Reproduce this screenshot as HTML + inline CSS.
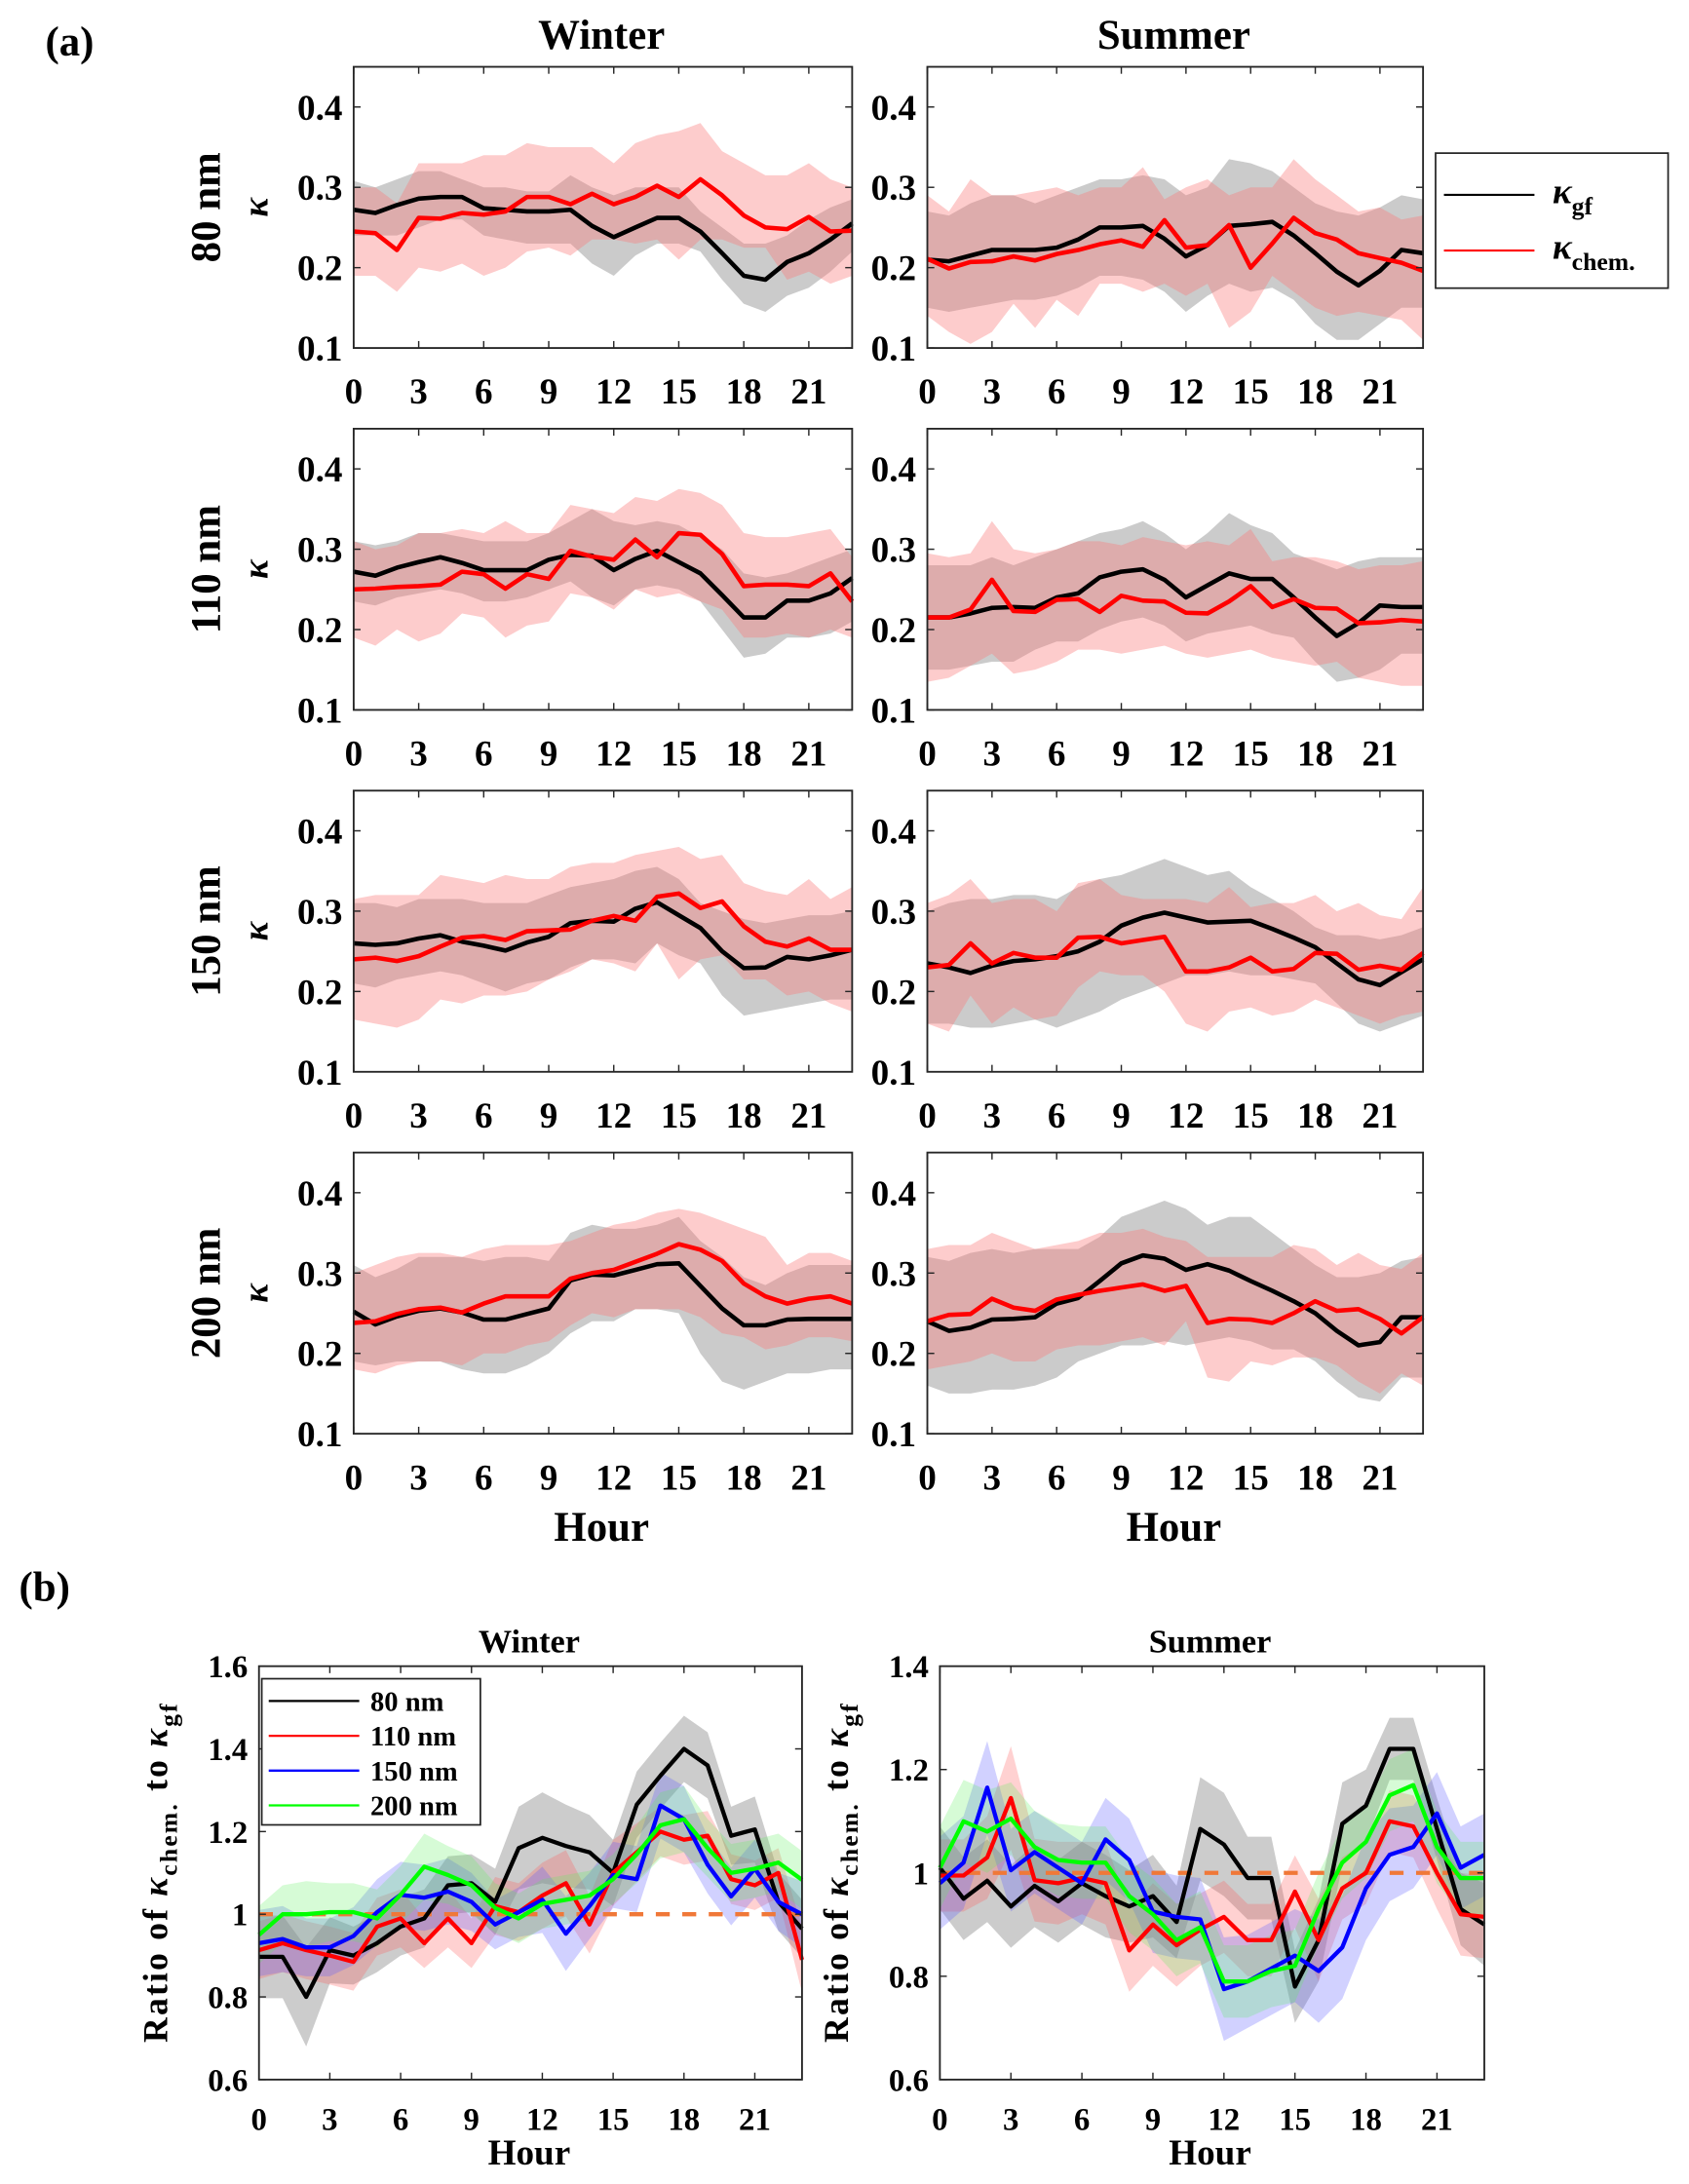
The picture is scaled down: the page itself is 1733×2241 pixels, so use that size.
<!DOCTYPE html>
<html><head><meta charset="utf-8"><style>
html,body{margin:0;padding:0;background:#fff;}
svg{display:block;font-family:"Liberation Serif",serif;font-weight:bold;}
</style></head><body>
<svg id="fig" xmlns="http://www.w3.org/2000/svg" width="1733" height="2241" viewBox="0 0 1213 1569" preserveAspectRatio="none">
<text x="50" y="40" font-size="30" text-anchor="middle">(a)</text>
<text x="432" y="35" font-size="30" text-anchor="middle">Winter</text>
<text x="843" y="35" font-size="30" text-anchor="middle">Summer</text>
<text x="432" y="1107" font-size="30" text-anchor="middle">Hour</text>
<text x="843" y="1107" font-size="30" text-anchor="middle">Hour</text>
<g>
<rect x="1031" y="110" width="167" height="97" fill="#fff" stroke="#222" stroke-width="1.2"/>
<line x1="1037" y1="140" x2="1102" y2="140" stroke="#000" stroke-width="1.5"/>
<text x="1115" y="146" font-size="26" font-style="italic">κ<tspan font-size="18" font-style="normal" dy="8">gf</tspan></text>
<line x1="1037" y1="180" x2="1102" y2="180" stroke="#f00" stroke-width="1.5"/>
<text x="1115" y="186" font-size="26" font-style="italic">κ<tspan font-size="18" font-style="normal" dy="8">chem.</tspan></text>
</g>
<text x="32" y="1150" font-size="30" text-anchor="middle">(b)</text>
<text x="380" y="1187" font-size="24" text-anchor="middle">Winter</text>
<text x="869" y="1187" font-size="24" text-anchor="middle">Summer</text>
<text x="380" y="1555" font-size="26" text-anchor="middle">Hour</text>
<text x="869" y="1555" font-size="26" text-anchor="middle">Hour</text>
<text transform="translate(120,1345) rotate(-90)" font-size="25" text-anchor="middle" letter-spacing="1.5">Ratio of <tspan font-style="italic">κ</tspan><tspan font-size="18" dy="7">chem.</tspan><tspan dy="-7"> to </tspan><tspan font-style="italic">κ</tspan><tspan font-size="18" dy="7">gf</tspan></text>
<text transform="translate(609,1345) rotate(-90)" font-size="25" text-anchor="middle" letter-spacing="1.5">Ratio of <tspan font-style="italic">κ</tspan><tspan font-size="18" dy="7">chem.</tspan><tspan dy="-7"> to </tspan><tspan font-style="italic">κ</tspan><tspan font-size="18" dy="7">gf</tspan></text>
</svg>
<script>
const hours=[0,1,2,3,4,5,6,7,8,9,10,11,12,13,14,15,16,17,18,19,20,21,22,23];
const xTicks=[0,3,6,9,12,15,18,21];
const aYTicks=[0.1,0.2,0.3,0.4];
const sizeLabels=["80 nm","110 nm","150 nm","200 nm"];
// row 80 nm winter
const w80Gf=[.272,.268,.278,.286,.288,.288,.274,.272,.270,.270,.272,.252,.238,.250,.262,.262,.245,.218,.190,.185,.207,.218,.235,.255];
const w80GfHi=[.308,.300,.31,.32,.32,.31,.30,.30,.295,.295,.315,.30,.29,.30,.30,.30,.27,.25,.23,.23,.24,.26,.275,.285];
const w80GfLo=[.24,.24,.24,.25,.26,.26,.24,.235,.23,.23,.23,.205,.19,.215,.23,.23,.22,.185,.155,.145,.165,.175,.195,.22];
const w80Ch=[.245,.243,.222,.262,.261,.268,.266,.270,.288,.288,.279,.292,.279,.288,.302,.288,.310,.290,.265,.250,.248,.263,.245,.246];
const w80ChHi=[.30,.30,.28,.33,.33,.33,.34,.34,.355,.35,.35,.35,.33,.355,.365,.37,.38,.345,.33,.315,.315,.33,.31,.30];
const w80ChLo=[.19,.19,.17,.20,.195,.205,.19,.20,.22,.225,.215,.235,.235,.23,.235,.21,.235,.235,.225,.225,.185,.195,.18,.19];
// row 80 nm summer
const s80Gf=[.210,.208,.215,.222,.222,.222,.225,.235,.25,.25,.252,.236,.214,.228,.252,.254,.257,.240,.218,.195,.178,.196,.222,.218];
const s80GfHi=[.27,.265,.28,.29,.29,.28,.29,.30,.31,.31,.315,.31,.29,.30,.335,.33,.32,.30,.28,.27,.265,.275,.29,.285];
const s80GfLo=[.15,.145,.15,.155,.16,.16,.165,.175,.19,.19,.185,.17,.145,.165,.18,.17,.175,.16,.13,.11,.11,.13,.15,.15];
const s80Ch=[.211,.199,.207,.208,.214,.209,.217,.222,.229,.234,.226,.259,.225,.228,.253,.200,.230,.262,.243,.235,.218,.212,.206,.196];
const s80ChHi=[.29,.27,.31,.29,.29,.295,.30,.29,.30,.30,.325,.285,.30,.31,.29,.30,.30,.335,.31,.29,.27,.275,.26,.265];
const s80ChLo=[.14,.12,.105,.12,.155,.125,.16,.14,.18,.18,.17,.18,.165,.18,.125,.145,.19,.17,.15,.14,.145,.14,.135,.11];
// row 110 nm winter
const w110Gf=[.272,.267,.277,.284,.290,.283,.274,.274,.274,.287,.293,.292,.274,.288,.298,.284,.270,.243,.215,.215,.236,.236,.245,.264];
const w110GfHi=[.31,.305,.31,.32,.32,.315,.31,.31,.31,.32,.335,.35,.335,.33,.335,.33,.315,.30,.27,.265,.27,.28,.29,.30];
const w110GfLo=[.235,.23,.24,.245,.25,.245,.235,.235,.24,.25,.26,.24,.23,.25,.255,.25,.235,.20,.165,.17,.19,.19,.195,.21];
const w110Ch=[.250,.251,.253,.254,.256,.272,.269,.251,.269,.263,.298,.291,.287,.312,.290,.320,.318,.294,.254,.256,.256,.254,.270,.235];
const w110ChHi=[.31,.30,.305,.32,.32,.325,.32,.335,.32,.32,.355,.35,.345,.365,.36,.375,.37,.355,.32,.315,.315,.32,.325,.29];
const w110ChLo=[.19,.18,.20,.185,.195,.22,.215,.19,.205,.21,.245,.24,.225,.25,.24,.245,.235,.225,.19,.19,.195,.19,.20,.19];
// row 110 nm summer
const s110Gf=[.215,.215,.220,.227,.228,.227,.240,.245,.265,.272,.275,.262,.240,.255,.270,.263,.263,.240,.215,.192,.208,.230,.228,.228];
const s110GfHi=[.28,.28,.28,.29,.28,.29,.30,.31,.32,.325,.335,.32,.30,.32,.345,.33,.32,.295,.285,.275,.285,.29,.29,.29];
const s110GfLo=[.15,.15,.155,.16,.16,.175,.185,.185,.20,.21,.215,.205,.185,.195,.20,.205,.195,.19,.16,.135,.14,.15,.17,.17];
const s110Ch=[.215,.215,.225,.262,.223,.222,.237,.238,.222,.242,.236,.235,.221,.220,.235,.254,.228,.238,.227,.226,.208,.209,.212,.210];
const s110ChHi=[.295,.29,.295,.335,.30,.295,.30,.31,.31,.305,.315,.31,.305,.31,.305,.325,.285,.29,.29,.285,.275,.28,.28,.285];
const s110ChLo=[.135,.14,.155,.17,.145,.15,.16,.175,.175,.17,.175,.18,.17,.165,.17,.175,.165,.16,.155,.16,.14,.135,.13,.13];
// row 150 nm winter
const w150Gf=[.26,.258,.26,.266,.270,.262,.257,.251,.261,.268,.285,.288,.287,.303,.311,.295,.279,.250,.229,.230,.243,.240,.245,.252];
const w150GfHi=[.31,.31,.305,.315,.315,.315,.31,.31,.31,.32,.33,.335,.34,.35,.355,.34,.31,.30,.29,.285,.29,.295,.295,.30];
const w150GfLo=[.21,.205,.215,.22,.225,.22,.21,.20,.21,.215,.23,.24,.24,.235,.26,.245,.235,.195,.17,.175,.18,.185,.19,.19];
const w150Ch=[.240,.242,.238,.244,.256,.267,.269,.264,.275,.276,.277,.288,.294,.288,.318,.322,.304,.312,.281,.262,.256,.266,.252,.252];
const w150ChHi=[.315,.32,.32,.32,.345,.34,.335,.345,.34,.34,.355,.36,.36,.37,.375,.38,.365,.37,.335,.325,.32,.34,.315,.33];
const w150ChLo=[.165,.16,.155,.165,.19,.185,.195,.195,.20,.215,.225,.24,.235,.225,.26,.215,.24,.245,.215,.215,.195,.20,.185,.175];
// row 150 nm summer
const s150Gf=[.235,.230,.223,.232,.238,.240,.244,.250,.262,.282,.292,.298,.292,.286,.287,.288,.278,.267,.255,.235,.215,.208,.224,.240];
const s150GfHi=[.30,.31,.315,.315,.32,.32,.315,.33,.34,.345,.355,.365,.355,.345,.35,.33,.315,.30,.28,.27,.27,.265,.27,.28];
const s150GfLo=[.16,.16,.155,.155,.16,.165,.155,.165,.175,.19,.20,.21,.22,.22,.225,.22,.22,.215,.21,.185,.16,.15,.16,.17];
const s150Ch=[.230,.233,.260,.235,.248,.242,.242,.267,.268,.260,.264,.268,.225,.225,.230,.242,.225,.228,.248,.247,.227,.232,.227,.248];
const s150ChHi=[.31,.32,.34,.31,.315,.315,.30,.335,.34,.32,.315,.315,.315,.31,.33,.305,.31,.31,.32,.30,.31,.295,.29,.33];
const s150ChLo=[.16,.15,.195,.16,.18,.165,.17,.205,.225,.22,.22,.20,.16,.15,.175,.18,.17,.175,.19,.18,.17,.16,.17,.175];
// row 200 nm winter
const w200Gf=[.252,.236,.246,.253,.256,.251,.242,.242,.249,.256,.291,.298,.297,.304,.311,.312,.284,.256,.235,.235,.242,.243,.243,.243];
const w200GfHi=[.31,.295,.305,.32,.32,.32,.315,.32,.32,.315,.35,.36,.355,.355,.36,.37,.34,.32,.295,.285,.30,.31,.31,.31];
const w200GfLo=[.19,.185,.19,.19,.19,.18,.175,.175,.185,.20,.225,.24,.24,.255,.255,.25,.20,.165,.155,.165,.175,.175,.18,.18];
const w200Ch=[.238,.240,.249,.255,.257,.251,.262,.271,.271,.271,.293,.300,.304,.314,.324,.336,.329,.315,.287,.271,.262,.268,.271,.262];
const w200ChHi=[.30,.31,.32,.325,.325,.32,.33,.335,.335,.335,.34,.35,.36,.365,.375,.38,.375,.365,.355,.345,.31,.325,.325,.315];
const w200ChLo=[.18,.175,.185,.19,.19,.185,.20,.20,.21,.215,.235,.25,.245,.255,.255,.255,.245,.225,.22,.205,.21,.22,.22,.215];
// row 200 nm summer
const s200Gf=[.240,.228,.232,.242,.243,.245,.262,.269,.290,.312,.322,.318,.304,.311,.303,.290,.278,.265,.250,.228,.210,.214,.245,.245];
const s200GfHi=[.32,.315,.325,.33,.325,.33,.33,.33,.345,.37,.38,.39,.38,.36,.37,.37,.35,.33,.31,.295,.295,.30,.315,.32];
const s200GfLo=[.16,.15,.15,.155,.155,.16,.17,.19,.20,.21,.21,.215,.21,.215,.22,.215,.205,.205,.19,.165,.145,.14,.17,.17];
const s200Ch=[.240,.248,.249,.268,.257,.253,.267,.273,.278,.282,.286,.278,.284,.238,.243,.242,.238,.250,.265,.253,.255,.243,.225,.245];
const s200ChHi=[.33,.335,.335,.35,.34,.33,.335,.34,.35,.35,.355,.345,.34,.32,.32,.32,.32,.335,.33,.31,.325,.31,.305,.325];
const s200ChLo=[.18,.185,.19,.20,.19,.19,.205,.21,.21,.215,.22,.21,.24,.17,.165,.19,.185,.195,.195,.185,.165,.15,.175,.16];
// panel b ratios
const bWinterTicks=[0.6,0.8,1.0,1.2,1.4,1.6];
const bSummerTicks=[0.6,0.8,1.0,1.2,1.4];
const bw80=[.897,.897,.80,.913,.90,.93,.97,.99,1.07,1.075,1.03,1.16,1.185,1.165,1.15,1.10,1.265,1.335,1.40,1.36,1.19,1.205,1.03,.965];
const bw110=[.913,.93,.913,.90,.885,.97,.99,.93,.99,.93,1.02,1.005,1.045,1.075,.975,1.10,1.15,1.20,1.18,1.19,1.085,1.07,1.10,.89];
const bw150=[.93,.94,.92,.92,.947,1.005,1.047,1.04,1.055,1.03,.975,1.005,1.035,.953,1.02,1.095,1.085,1.263,1.23,1.12,1.043,1.11,1.03,1.0];
const bw200=[.95,1.0,1.0,1.005,1.005,.99,1.047,1.115,1.095,1.07,1.015,.99,1.025,1.035,1.045,1.085,1.145,1.215,1.23,1.16,1.10,1.11,1.125,1.083];
const bw80Err=[.1,.1,.12,.08,.07,.07,.07,.07,.07,.07,.08,.1,.11,.1,.09,.08,.08,.08,.08,.08,.07,.08,.07,.07];
const bw110Err=[.07,.07,.07,.07,.07,.07,.07,.06,.07,.06,.07,.07,.08,.08,.07,.08,.07,.06,.06,.06,.06,.06,.06,.08];
const bw150Err=[.08,.08,.07,.07,.07,.08,.08,.08,.08,.07,.06,.06,.08,.09,.08,.08,.08,.08,.08,.07,.07,.07,.07,.08];
const bw200Err=[.07,.07,.08,.07,.07,.07,.07,.08,.07,.07,.06,.06,.06,.06,.06,.06,.07,.08,.08,.07,.07,.07,.07,.07];
const bs80=[1.01,.95,.985,.935,.975,.945,.98,.955,.935,.955,.905,1.085,1.055,.99,.99,.78,.87,1.095,1.13,1.24,1.24,1.085,.93,.90];
const bs110=[.995,.995,1.03,1.145,.986,.98,.99,.98,.85,.90,.86,.89,.915,.87,.87,.964,.87,.97,1.0,1.10,1.09,1.0,.92,.915];
const bs150=[.98,1.02,1.165,1.005,1.04,1.01,.98,1.065,1.025,.925,.915,.91,.775,.79,.815,.84,.81,.856,.97,1.035,1.05,1.115,1.01,1.035];
const bs200=[1.01,1.10,1.08,1.105,1.05,1.025,1.02,1.02,.955,.92,.87,.895,.79,.79,.81,.82,.93,1.02,1.06,1.15,1.17,1.05,.99,.99];
const bs80Err=[.08,.08,.08,.08,.08,.08,.08,.08,.07,.08,.07,.1,.1,.08,.08,.07,.08,.08,.07,.06,.06,.06,.07,.08];
const bs110Err=[.07,.07,.08,.1,.08,.08,.07,.08,.08,.08,.08,.07,.07,.07,.07,.07,.08,.06,.06,.06,.06,.07,.08,.08];
const bs150Err=[.09,.09,.09,.08,.08,.08,.08,.08,.08,.08,.08,.08,.1,.09,.09,.09,.1,.1,.1,.09,.08,.08,.08,.08];
const bs200Err=[.08,.08,.08,.07,.07,.07,.07,.07,.07,.07,.07,.07,.07,.07,.07,.07,.07,.07,.07,.07,.07,.07,.07,.07];

const NS="http://www.w3.org/2000/svg";
const svg=document.getElementById('fig');
function mk(tag,attrs,parent){const e=document.createElementNS(NS,tag);for(const k in attrs)e.setAttribute(k,attrs[k]);(parent||svg).appendChild(e);return e;}
function linePts(xs,ys,X,Y){return xs.map((h,i)=>X(h).toFixed(1)+','+Y(ys[i]).toFixed(1)).join(' ');}
function bandPts(xs,hi,lo,X,Y){const up=xs.map((h,i)=>X(h).toFixed(1)+','+Y(hi[i]).toFixed(1));const dn=xs.map((h,i)=>X(h).toFixed(1)+','+Y(lo[i]).toFixed(1)).reverse();return up.concat(dn).join(' ');}

function axesFrame(g,x0,y0,w,h,X,Y,yTicks,yFmt,fs,lblDy){
  for(const t of xTicks){const xx=X(t);
    const tk=mk('line',{x1:xx,y1:y0+h,x2:xx,y2:y0+h-5,stroke:'#262626','stroke-width':1},g);
    
    
    const tk2=mk('line',{x1:xx,y1:y0,x2:xx,y2:y0+5,stroke:'#262626','stroke-width':1},g);
    
    
    const tl=mk('text',{x:xx,y:y0+h+lblDy,'font-size':fs,'text-anchor':'middle'},g);tl.textContent=String(t);
    
    
  }
  for(const t of yTicks){const yy=Y(t);
    const tk=mk('line',{x1:x0,y1:yy,x2:x0+5,y2:yy,stroke:'#262626','stroke-width':1},g);
    
    
    const tk2=mk('line',{x1:x0+w,y1:yy,x2:x0+w-5,y2:yy,stroke:'#262626','stroke-width':1},g);
    
    
    const tl=mk('text',{x:x0-8,y:yy+fs*0.35,'font-size':fs,'text-anchor':'end'},g);tl.textContent=yFmt(t);
    
    
  }
  const fr=mk('rect',{x:x0,y:y0,width:w,height:h,fill:'none',stroke:'#262626','stroke-width':1.3},g);
  
  
}

function panelA(x0,y0,w,h,gf,gfHi,gfLo,ch,chHi,chLo,name){
  const g=mk('g',{});
  
  
  const X=v=>x0+v/23*w, Y=v=>y0+h-(v-0.1)/0.35*h;
  const b1=mk('polygon',{points:bandPts(hours,gfHi,gfLo,X,Y),fill:'rgba(130,130,130,0.42)'},g);
  
  
  const b2=mk('polygon',{points:bandPts(hours,chHi,chLo,X,Y),fill:'rgba(250,120,120,0.38)'},g);
  
  
  const l1=mk('polyline',{points:linePts(hours,gf,X,Y),fill:'none',stroke:'#000','stroke-width':3.2,'stroke-linejoin':'round'},g);
  
  
  const l2=mk('polyline',{points:linePts(hours,ch,X,Y),fill:'none',stroke:'#f00','stroke-width':3.2,'stroke-linejoin':'round'},g);
  
  
  axesFrame(g,x0,y0,w,h,X,Y,aYTicks,v=>v.toFixed(1),26,40);
}

const rowTops=[48,308,568,828];
const winterSets=[[w80Gf,w80GfHi,w80GfLo,w80Ch,w80ChHi,w80ChLo],[w110Gf,w110GfHi,w110GfLo,w110Ch,w110ChHi,w110ChLo],[w150Gf,w150GfHi,w150GfLo,w150Ch,w150ChHi,w150ChLo],[w200Gf,w200GfHi,w200GfLo,w200Ch,w200ChHi,w200ChLo]];
const summerSets=[[s80Gf,s80GfHi,s80GfLo,s80Ch,s80ChHi,s80ChLo],[s110Gf,s110GfHi,s110GfLo,s110Ch,s110ChHi,s110ChLo],[s150Gf,s150GfHi,s150GfLo,s150Ch,s150ChHi,s150ChLo],[s200Gf,s200GfHi,s200GfLo,s200Ch,s200ChHi,s200ChLo]];
rowTops.forEach((yt,i)=>{
  panelA(254,yt,358,202,...winterSets[i],'winter-panel-'+i);
  panelA(666,yt,356,202,...summerSets[i],'summer-panel-'+i);
  const rl=mk('text',{transform:`translate(158,${yt+101}) rotate(-90)`,'font-size':30,'text-anchor':'middle'});
  rl.textContent=sizeLabels[i];
  
  
  const kl=mk('text',{transform:`translate(192,${yt+101}) rotate(-90)`,'font-size':26,'text-anchor':'middle','font-style':'italic'});
  kl.textContent='κ';
  
  
});

const bColors=['#000','#f00','#00f','#0f0'];
const bFills=['rgba(110,110,110,0.35)','rgba(255,90,90,0.28)','rgba(90,90,255,0.28)','rgba(90,240,90,0.25)'];
const bNames=['80nm','110nm','150nm','200nm'];
function panelB(x0,y0,w,h,ymin,ymax,ticks,series,errs,name){
  const g=mk('g',{});
  
  
  const X=v=>x0+v/23*w, Y=v=>y0+h-(v-ymin)/(ymax-ymin)*h;
  series.forEach((s,k)=>{
    const hi=s.map((v,i)=>v+errs[k][i]), lo=s.map((v,i)=>v-errs[k][i]);
    const b=mk('polygon',{points:bandPts(hours,hi,lo,X,Y),fill:bFills[k]},g);
    
    
  });
  const ref=mk('line',{x1:X(0),y1:Y(1),x2:X(23),y2:Y(1),stroke:'#f07838','stroke-width':3,'stroke-dasharray':'10,9'},g);
  
  
  series.forEach((s,k)=>{
    const l=mk('polyline',{points:linePts(hours,s,X,Y),fill:'none',stroke:bColors[k],'stroke-width':3,'stroke-linejoin':'round'},g);
    
    
  });
  axesFrame(g,x0,y0,w,h,X,Y,ticks,v=>(Math.abs(v-1)<1e-9?'1':v.toFixed(1)),23,36);
}
panelB(186,1197,390,297,0.6,1.6,bWinterTicks,[bw80,bw110,bw150,bw200],[bw80Err,bw110Err,bw150Err,bw200Err],'ratio-winter-panel');
panelB(675,1197,391,297,0.6,1.4,bSummerTicks,[bs80,bs110,bs150,bs200],[bs80Err,bs110Err,bs150Err,bs200Err],'ratio-summer-panel');

// legend b
const lg=mk('g',{});


mk('rect',{x:188,y:1206,width:157,height:105,fill:'#fff',stroke:'#222','stroke-width':1.2},lg);
const legLabels=['80 nm','110 nm','150 nm','200 nm'];
legLabels.forEach((t,k)=>{
  const yy=1222+k*25;
  const ln=mk('line',{x1:193,y1:yy,x2:258,y2:yy,stroke:bColors[k],'stroke-width':1.6},lg);
  
  
  const tx=mk('text',{x:266,y:yy+7,'font-size':20},lg);tx.textContent=t;
  
  
});
</script>
</body></html>
